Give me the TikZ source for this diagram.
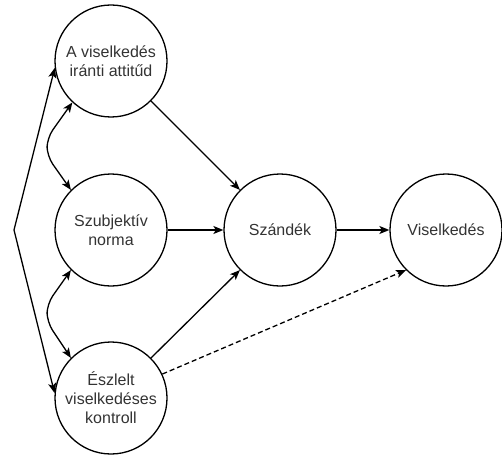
\documentclass[tikz,border=0pt]{standalone}
\usepackage{fontspec}
\setmainfont{Liberation Sans}
\usetikzlibrary{arrows.meta}

\tikzset{
	fogalom/.style={circle, draw, line width=1.3pt, minimum size=112pt, inner sep=0pt,
		align=center, text=black!80, font=\fontsize{16}{19}\selectfont},
	nyil/.style={line width=1.3pt, -{Stealth[length=10pt, width=8pt, inset=2.5pt]}},
	kettos/.style={line width=1.3pt, {Stealth[length=10pt, width=8pt, inset=2.5pt]}-{Stealth[length=10pt, width=8pt, inset=2.5pt]}, rounded corners=10pt}
}

\begin{document}
\begin{tikzpicture}[x=1pt, y=-1pt]
		\useasboundingbox (0, 0) rectangle (502, 454);
		% a harom elozmeny, balra egymas alatt
		\node[fogalom] (attitud) at (111, 61) {A viselkedés\\iránti attitűd};
		\node[fogalom] (norma) at (111, 230) {Szubjektív\\norma};
		\node[fogalom] (kontroll) at (111, 398) {Észlelt\\viselkedéses\\kontroll};
		% szandek es viselkedes
		\node[fogalom] (szandek) at (280, 230) {Szándék};
		\node[fogalom] (viselkedes) at (446, 230) {Viselkedés};

		\coordinate (bal) at (14, 230);

		\draw[nyil] (attitud.-45) -- (szandek.135);
		\draw[nyil] (norma) -- (szandek);
		\draw[nyil] (kontroll.45) -- (szandek.225);
		\draw[nyil] (szandek) -- (viselkedes);
		\draw[nyil, dash pattern=on 5pt off 3pt] (kontroll.25) -- (viselkedes.225);

		% kolcsonhatasok
		\draw[kettos] (attitud.227) -- (47, 138) -- (47, 156) -- (norma.135);
		\draw[kettos] (norma.225) -- (47, 304) -- (47, 322) -- (kontroll.135);
		\draw[kettos, rounded corners=0pt] (attitud.187) -- (bal) -- (kontroll.175);
	\end{tikzpicture}
\end{document}
